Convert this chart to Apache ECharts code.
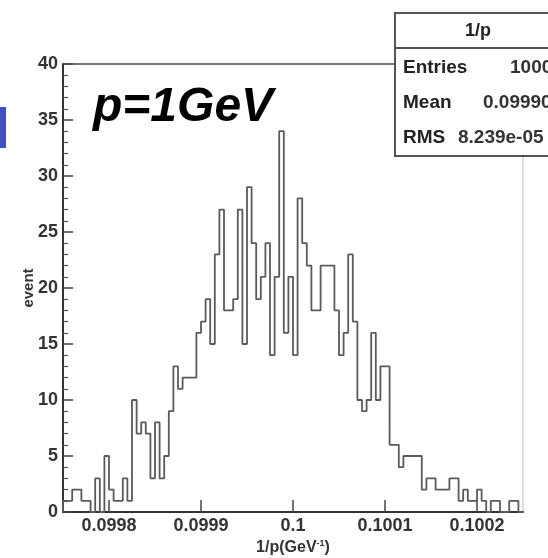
<!DOCTYPE html>
<html>
<head>
<meta charset="utf-8">
<script src="https://cdn.jsdelivr.net/npm/echarts@6/dist/echarts.min.js"></script>
<style>
  html, body { margin: 0; padding: 0; background: #fff; }
  #chart { width: 548px; height: 558px; }
</style>
</head>
<body>
<div id="chart"></div>
<script>
// histogram 1/p, 100 bins between xMin and xMax
var xMin = 0.09975
var xMax = 0.10025
var binCount = 100
var counts = [
  1, 1, 2, 2, 1, 1, 0, 3, 0, 5,
  2, 1, 1, 3, 1, 10, 7, 8, 7, 3,
  8, 3, 5, 9, 13, 11, 12, 12, 12, 16,
  17, 19, 15, 23, 27, 18, 18, 19, 27, 15,
  29, 24, 19, 21, 24, 14, 21, 34, 16, 21,
  14, 28, 24, 22, 18, 18, 22, 22, 22, 18,
  14, 16, 23, 17, 10, 9, 10, 16, 10, 13,
  13, 6, 6, 4, 5, 5, 5, 5, 2, 3,
  3, 2, 2, 2, 3, 3, 1, 2, 1, 1,
  2, 1, 0, 1, 1, 0, 0, 1, 1, 0
]
var xTickValues = [0.0998, 0.0999, 0.1, 0.1001, 0.1002]
var xTickLabels = ['0.0998', '0.0999', '0.1', '0.1001', '0.1002']
var statNames = ['Entries', 'Mean', 'RMS']
var statValues = ['1000', '0.09990', '8.239e-05']

var binW = (xMax - xMin) / binCount
// outline points: left edge of each bin, closing at xMax
var histData = [[xMin, 0]]
for (var i = 0; i < binCount; i++) {
  histData.push([xMin + i * binW, counts[i]])
}
histData.push([xMax, counts[binCount - 1]])
histData.push([xMax, 0])

var font = 'Liberation Sans, Arial, sans-serif'

// stats box (cut by the right edge like in the picture)
var statGraphics = [
  { type: 'rect', shape: { x: 395, y: 13, width: 170, height: 143 },
    style: { fill: '#fff', stroke: '#555', lineWidth: 2 }, z: 10 },
  { type: 'line', shape: { x1: 395, y1: 48, x2: 560, y2: 48 },
    style: { stroke: '#555', lineWidth: 2 }, z: 11 },
  { type: 'text', x: 478, y: 31, z: 11,
    style: { text: '1/p', font: 'bold 18px ' + font, fill: '#222', align: 'center', verticalAlign: 'middle' } }
]
var statStart = [510, 483, 458]
statNames.forEach(function (n, k) {
  var yy = 68 + k * 35
  statGraphics.push({ type: 'text', x: 403, y: yy, z: 11,
    style: { text: n, font: 'bold 19px ' + font, fill: '#222', verticalAlign: 'middle' } })
  statGraphics.push({ type: 'text', x: statStart[k], y: yy, z: 11,
    style: { text: statValues[k], font: 'bold 19px ' + font, fill: '#333', verticalAlign: 'middle' } })
})

var myChart = echarts.init(document.getElementById('chart'))
var option = {
  backgroundColor: '#fff',
  animation: false,
  grid: {
    left: 63, right: 25, top: 64, bottom: 46,
    outerBoundsMode: 'none',
    show: true, borderColor: '#bbb', borderWidth: 1
  },
  xAxis: {
    type: 'value',
    min: xMin,
    max: xMax,
    name: '{a|1/p(GeV}{s|-1}{a|)}',
    nameLocation: 'middle',
    nameGap: 27,
    nameMoveOverlap: false,
    nameTextStyle: {
      rich: {
        a: { fontFamily: font, fontWeight: 'bold', fontSize: 16, color: '#333' },
        s: { fontFamily: font, fontWeight: 'bold', fontSize: 9, color: '#333', verticalAlign: 'top', padding: [0, 0, 9, 0] }
      }
    },
    axisLine: { show: true, onZero: false, lineStyle: { color: '#333', width: 2 } },
    axisTick: { show: true, inside: true, length: 12, customValues: xTickValues, lineStyle: { color: '#444', width: 1.5 } },
    axisLabel: {
      customValues: xTickValues,
      margin: 5,
      fontFamily: font, fontWeight: 'bold', fontSize: 18, color: '#333',
      formatter: function (v) {
        for (var k = 0; k < xTickValues.length; k++) {
          if (Math.abs(v - xTickValues[k]) < 1e-9) return xTickLabels[k]
        }
        return ''
      }
    },
    splitLine: { show: false }
  },
  yAxis: {
    type: 'value',
    min: 0,
    max: 40,
    interval: 5,
    name: 'event',
    nameLocation: 'middle',
    nameRotate: 90,
    nameGap: 27,
    nameMoveOverlap: false,
    nameTextStyle: { fontFamily: font, fontWeight: 'bold', fontSize: 15, color: '#333' },
    axisLine: { show: true, lineStyle: { color: '#333', width: 2 } },
    axisTick: { show: true, inside: true, length: 10, lineStyle: { color: '#444', width: 1.5 } },
    minorTick: { show: true, splitNumber: 5, length: 5, lineStyle: { color: '#555', width: 1.2 } },
    axisLabel: { margin: 5, fontFamily: font, fontWeight: 'bold', fontSize: 18, color: '#333' },
    splitLine: { show: false }
  },
  series: [{
    type: 'line',
    step: 'end',
    data: histData,
    symbol: 'none',
    lineStyle: { color: '#5a5a5a', width: 1.8 }
  }],
  graphic: [
    // darker top edge of the frame
    { type: 'line', shape: { x1: 63, y1: 64, x2: 523, y2: 64 },
      style: { stroke: '#555', lineWidth: 1.5 } },
    { type: 'rect', shape: { x: 0, y: 107, width: 6, height: 41 },
      style: { fill: '#3f4fc4' } },
    { type: 'text', x: 93, y: 108,
      style: { text: 'p=1GeV', font: 'italic bold 48px ' + font, fill: '#000', verticalAlign: 'middle' } }
  ].concat(statGraphics)
}
myChart.setOption(option)
</script>
</body>
</html>
